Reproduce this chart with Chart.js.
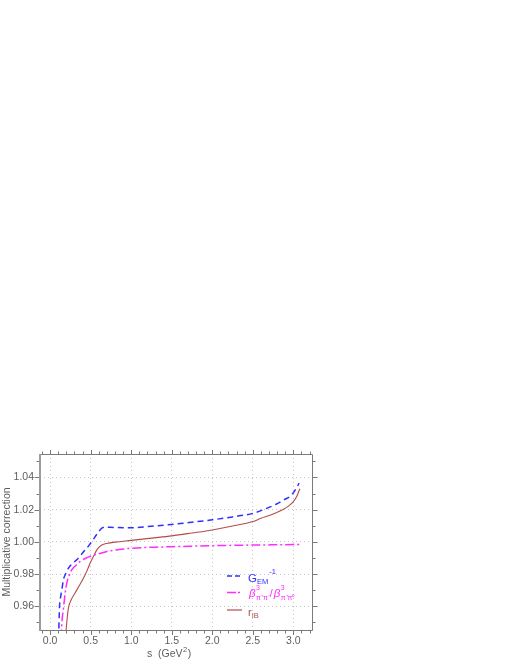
<!DOCTYPE html>
<html>
<head>
<meta charset="utf-8">
<script src="https://cdn.jsdelivr.net/npm/chart.js@4/dist/chart.umd.min.js"></script>
<style>
  html, body { margin: 0; padding: 0; background: #ffffff; }
  #wrap { position: relative; width: 510px; height: 660px; }
</style>
</head>
<body>
<div id="wrap"><canvas id="c" width="510" height="660"></canvas></div>
<script>
// ---- data ----
const xTickValues = [0.0, 0.5, 1.0, 1.5, 2.0, 2.5, 3.0];
const yTickValues = [0.96, 0.98, 1.00, 1.02, 1.04];

const sGem = [0.105, 0.115, 0.13, 0.144, 0.164, 0.19, 0.226, 0.27, 0.329, 0.38, 0.432, 0.475, 0.515, 0.58, 0.638, 0.68, 0.74, 1.00, 1.25, 1.50, 1.75, 2.00, 2.25, 2.50, 2.63, 2.78, 2.88, 2.98, 3.05, 3.07];
const gemInv = [0.940, 0.959, 0.966, 0.970, 0.9765, 0.980, 0.9837, 0.9863, 0.9889, 0.9918, 0.995, 0.9975, 1.0002, 1.005, 1.0085, 1.0092, 1.0090, 1.0088, 1.0097, 1.0108, 1.0122, 1.0137, 1.0155, 1.0177, 1.0200, 1.0232, 1.0260, 1.0292, 1.0345, 1.0365];

const sBeta = [0.135, 0.145, 0.165, 0.185, 0.206, 0.235, 0.268, 0.32, 0.37, 0.44, 0.515, 0.60, 0.70, 0.85, 1.00, 1.30, 1.60, 2.00, 2.50, 3.00, 3.10];
const betaRatio = [0.940, 0.950, 0.959, 0.968, 0.9745, 0.979, 0.9827, 0.9855, 0.9878, 0.9898, 0.9913, 0.9926, 0.9940, 0.9952, 0.9960, 0.9967, 0.9971, 0.9976, 0.9980, 0.9983, 0.9984];

const sRib = [0.19, 0.20, 0.226, 0.26, 0.309, 0.36, 0.412, 0.45, 0.494, 0.54, 0.576, 0.61, 0.638, 0.68, 0.72, 0.80, 1.00, 1.25, 1.50, 1.75, 2.00, 2.25, 2.50, 2.60, 2.72, 2.84, 2.94, 3.00, 3.04, 3.08];
const rIB = [0.940, 0.947, 0.959, 0.964, 0.9683, 0.9728, 0.9775, 0.9815, 0.9868, 0.9915, 0.9950, 0.9970, 0.9981, 0.9988, 0.9992, 0.9998, 1.0009, 1.0023, 1.0037, 1.0055, 1.0074, 1.0098, 1.0126, 1.0146, 1.0167, 1.0193, 1.0222, 1.0250, 1.0280, 1.0330];

const BLUE = '#2f2fff';
const MAGENTA = '#ff2bff';
const BROWN = '#b24c4c';
const TEXT = '#5e5e5e';
const FONT = '"Liberation Sans", Arial, sans-serif';

function pts(xs, ys) { return xs.map((x, i) => ({ x: x, y: ys[i] })); }

function drawRich(ctx, x, y, parts, color) {
  ctx.save();
  ctx.fillStyle = color;
  ctx.textBaseline = 'alphabetic';
  ctx.textAlign = 'left';
  let cx = x;
  for (const p of parts) {
    ctx.font = (p.italic ? 'italic ' : '') + p.size + 'px ' + FONT;
    ctx.fillText(p.t, cx, y + (p.dy || 0));
    const w = ctx.measureText(p.t).width;
    if (!p.stack) cx += w + (p.gap || 0);
  }
  ctx.restore();
  return cx;
}

const framePlugin = {
  id: 'frame',
  afterDraw(chart) {
    const { ctx, chartArea: a, scales } = chart;
    const xs = scales.x, ys = scales.y;
    ctx.save();
    // frame
    ctx.strokeStyle = '#7a7a7a';
    ctx.lineWidth = 1;
    ctx.beginPath();
    ctx.moveTo(a.left, a.top + 0.5); ctx.lineTo(a.right + 0.5, a.top + 0.5);
    ctx.lineTo(a.right + 0.5, a.bottom + 0.5); ctx.lineTo(a.left, a.bottom + 0.5);
    ctx.stroke();
    ctx.strokeStyle = '#9c9c9c';
    ctx.lineWidth = 2;
    ctx.beginPath();
    ctx.moveTo(a.left, a.top); ctx.lineTo(a.left, a.bottom + 1);
    ctx.stroke();
    // x ticks (top up, bottom down)
    ctx.strokeStyle = '#7a7a7a';
    ctx.lineWidth = 1;
    ctx.beginPath();
    for (let i = -1; i <= 32; i++) {
      const px = Math.round(xs.getPixelForValue(i / 10)) + 0.5;
      if (px < a.left || px > a.right) continue;
      const len = (i % 5 === 0) ? 4 : 2.5;
      ctx.moveTo(px, a.top); ctx.lineTo(px, a.top - len);
      ctx.moveTo(px, a.bottom + 1); ctx.lineTo(px, a.bottom + 1 + len);
    }
    // y ticks (left out, right out)
    for (let i = 95; i <= 105; i++) {
      const py = Math.round(ys.getPixelForValue(i / 100)) + 0.5;
      if (py < a.top || py > a.bottom) continue;
      const len = (i % 2 === 0) ? 4.5 : 2.5;
      ctx.moveTo(a.left - 1, py); ctx.lineTo(a.left - 1 - len, py);
      ctx.moveTo(a.right + 1, py); ctx.lineTo(a.right + 1 + len, py);
    }
    ctx.stroke();

    // x axis title
    ctx.fillStyle = TEXT;
    ctx.font = '10.5px ' + FONT;
    ctx.textBaseline = 'alphabetic';
    ctx.textAlign = 'left';
    let tx = 147;
    const base = 657;
    ctx.fillText('s  (GeV', tx, base);
    tx += ctx.measureText('s  (GeV').width;
    ctx.font = '7.5px ' + FONT;
    ctx.fillText('2', tx + 0.5, base - 5);
    tx += ctx.measureText('2').width + 1;
    ctx.font = '10.5px ' + FONT;
    ctx.fillText(')', tx, base);

    // legend
    const lx0 = 227, lx1 = 242;
    const rows = [
      { y: 576, color: BLUE, dash: [5, 3], w: 1.5 },
      { y: 592.5, color: MAGENTA, dash: [9, 2, 2, 2], w: 1.5 },
      { y: 610, color: BROWN, dash: [], w: 1.2 }
    ];
    for (const r of rows) {
      ctx.strokeStyle = r.color;
      ctx.lineWidth = r.w;
      ctx.setLineDash(r.dash);
      ctx.beginPath();
      ctx.moveTo(lx0, r.y); ctx.lineTo(lx1, r.y);
      ctx.stroke();
    }
    ctx.setLineDash([]);
    ctx.restore();

    drawRich(ctx, 248, 581.5, [
      { t: 'G', size: 11.5 },
      { t: 'EM', size: 7.5, dy: 2.5, gap: 1 },
      { t: '-1', size: 7.5, dy: -8 }
    ], BLUE);

    drawRich(ctx, 249, 597, [
      { t: '\u03B2', size: 11.5, italic: true, gap: 0.5 },
      { t: '3', size: 7, dy: -7, stack: true },
      { t: '\u03C0\u207A\u03C0\u207B', size: 7, dy: 2.5 },
      { t: '/', size: 10.5, gap: 1 },
      { t: '\u03B2', size: 11.5, italic: true, gap: 0.5 },
      { t: '3', size: 7, dy: -7, stack: true },
      { t: '\u03C0\u207A\u03C0\u2070', size: 7, dy: 2.5 }
    ], MAGENTA);

    drawRich(ctx, 248, 615.5, [
      { t: 'r', size: 11 },
      { t: 'IB', size: 7.5, dy: 2 }
    ], BROWN);
  }
};

new Chart(document.getElementById('c'), {
  type: 'line',
  data: {
    datasets: [
      { label: 'G_EM^-1', data: pts(sGem, gemInv), borderColor: BLUE, borderWidth: 1.5, borderDash: [6, 4], pointRadius: 0, fill: false, cubicInterpolationMode: 'monotone' },
      { label: 'beta ratio', data: pts(sBeta, betaRatio), borderColor: MAGENTA, borderWidth: 1.5, borderDash: [9, 3, 2, 3], pointRadius: 0, fill: false, cubicInterpolationMode: 'monotone' },
      { label: 'r_IB', data: pts(sRib, rIB), borderColor: BROWN, borderWidth: 1.1, pointRadius: 0, fill: false, cubicInterpolationMode: 'monotone' }
    ]
  },
  options: {
    responsive: false,
    animation: false,
    events: [],
    layout: { padding: { left: 0, top: 454, right: 198, bottom: 0 } },
    plugins: { legend: { display: false }, tooltip: { enabled: false }, title: { display: false } },
    scales: {
      x: {
        type: 'linear',
        min: -0.125,
        max: 3.23,
        afterBuildTicks: (s) => { s.ticks = xTickValues.map(v => ({ value: v })); },
        afterFit: (s) => { s.height = 30; },
        grid: { color: '#c4c4c4', lineWidth: 1, drawTicks: false },
        border: { display: false, dash: [1, 3] },
        ticks: {
          color: TEXT, padding: 5, maxRotation: 0, autoSkip: false,
          font: { family: FONT, size: 10.5 },
          callback: (v) => Number(v).toFixed(1)
        },
        title: { display: false }
      },
      y: {
        type: 'linear',
        min: 0.9452,
        max: 1.0546,
        afterBuildTicks: (s) => { s.ticks = yTickValues.map(v => ({ value: v })); },
        afterFit: (s) => { s.width = 40; },
        grid: { color: '#c4c4c4', lineWidth: 1, drawTicks: false },
        border: { display: false, dash: [1, 3] },
        ticks: {
          color: TEXT, padding: 6, autoSkip: false,
          font: { family: FONT, size: 10.5 },
          callback: (v) => Number(v).toFixed(2)
        },
        title: {
          display: true, text: 'Multiplicative correction', color: TEXT,
          font: { family: FONT, size: 10.5 }, padding: { top: 1, bottom: 0 }
        }
      }
    }
  },
  plugins: [framePlugin]
});
</script>
</body>
</html>
